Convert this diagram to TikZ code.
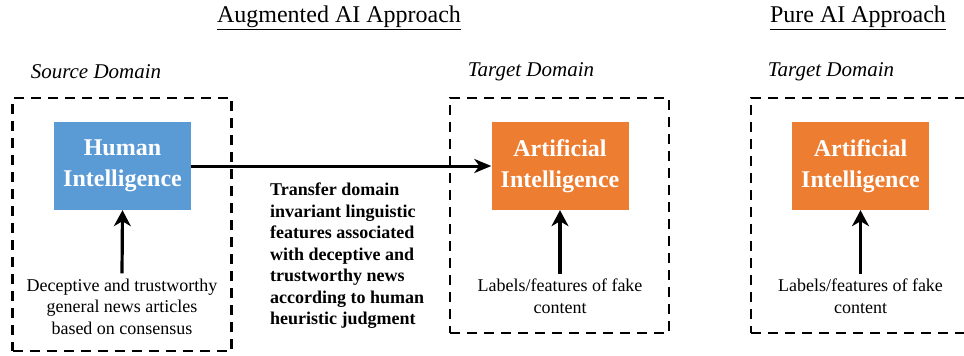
\documentclass[tikz,border=0pt]{standalone}
\usepackage{fontspec}
\setmainfont{Liberation Serif}
\usetikzlibrary{arrows.meta}
\definecolor{hblue}{HTML}{5B9BD5}
\definecolor{aorange}{HTML}{ED7D31}
\tikzset{
  domainbox/.style={draw=black, line width=2.8pt, dash pattern=on 10pt off 7pt, minimum width=219pt, inner sep=0pt},
  colbox/.style={minimum width=137pt, minimum height=88pt, inner sep=0pt, text=white, align=center, font=\fontsize{24}{31}\selectfont\bfseries},
  caption/.style={align=center, font=\fontsize{18}{21.5}\selectfont, inner sep=2pt},
  domlabel/.style={font=\fontsize{21}{25}\selectfont\itshape, inner sep=0pt},
  titlelabel/.style={font=\fontsize{24}{29}\selectfont, inner sep=0pt},
  varr/.style={line width=3.2pt, -{Stealth[length=16pt, width=17pt, inset=5pt]}},
  harr/.style={line width=3pt, -{Stealth[length=17pt, width=14pt, inset=5pt]}}
}
\begin{document}
\begin{tikzpicture}[x=1pt, y=-1pt]
\useasboundingbox (0,0) rectangle (964,356);
\clip (0,0) rectangle (964,356);
\fill[white] (0,0) rectangle (964,356);
% titles
\node[titlelabel] (t1) at (339,18) {\underline{Augmented AI Approach}};
\node[titlelabel] (t2) at (858,18) {\underline{Pure AI Approach}};
\node[domlabel] (sd) at (96,72) {Source Domain};
\node[domlabel] (td1) at (531,72) {Target Domain};
\node[domlabel] (td2) at (831,72) {Target Domain};
% dashed domain boxes
\node[domainbox, minimum height=253pt] (srcbox) at (122,224.5) {};
\node[domainbox, minimum height=235pt] (tgtbox) at (559.5,215.5) {};
\node[domainbox, minimum height=235pt] (purebox) at (860.5,215.5) {};
% colored boxes
\node[colbox, fill=hblue] (hi) at (122.5,166) {Human\\Intelligence};
\node[colbox, fill=aorange] (ai1) at (560,166) {Artificial\\Intelligence};
\node[colbox, fill=aorange] (ai2) at (860.5,166) {Artificial\\Intelligence};
% captions
\node[caption] (c1) at (122,306.5) {Deceptive and trustworthy\\general news articles\\based on consensus};
\node[caption] (c2) at (560,296) {Labels/features of fake\\content};
\node[caption] (c3) at (860.5,296) {Labels/features of fake\\content};
\node[caption, anchor=west, align=left, font=\fontsize{18}{21.5}\selectfont\bfseries] (tr) at (268,256)
  {Transfer domain\\invariant linguistic\\features associated\\with deceptive and\\trustworthy news\\according to human\\heuristic judgment};
% arrows
\draw[harr] (hi.east) -- (ai1.west);
\draw[varr] (c1.north) ++(0,-3) -- (hi.south);
\draw[varr] (c2.north) ++(0,-3) -- (ai1.south);
\draw[varr] (c3.north) ++(0,-3) -- (ai2.south);
\end{tikzpicture}
\end{document}
